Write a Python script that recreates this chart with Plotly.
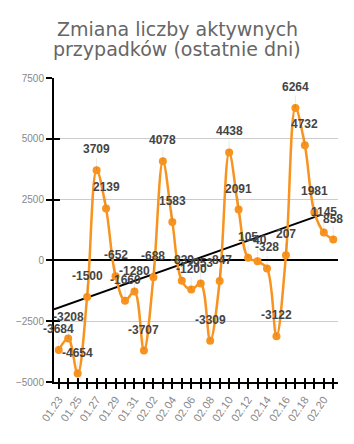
import plotly.graph_objects as go
import numpy as np

dates = ["01.23","01.24","01.25","01.26","01.27","01.28","01.29","01.30","01.31",
         "02.01","02.02","02.03","02.04","02.05","02.06","02.07","02.08","02.09",
         "02.10","02.11","02.12","02.13","02.14","02.15","02.16","02.17","02.18",
         "02.19","02.20","02.21"]
changes = [-3684, -3208, -4654, -1500, 3709, 2139, -652, -1660, -1280,
           -3707, -688, 4078, 1583, -839, -1200, -953, -3309, -847,
           4438, 2091, 105, -40, -328, -3122, 207, 6264, 4732,
           1981, 1145, 858]
y_ticks = [-5000, -2500, 0, 2500, 5000, 7500]
title_lines = ["Zmiana liczby aktywnych", "przypadków (ostatnie dni)"]

idx = list(range(len(dates)))
ORANGE = "#F7931E"

# linear trend
slope, intercept = np.polyfit(idx, changes, 1)
trend_x = [-0.5, 27.6]
trend_y = [slope * x + intercept for x in trend_x]

fig = go.Figure()
fig.add_trace(go.Scatter(x=trend_x, y=trend_y, mode="lines",
                         line=dict(color="black", width=2), hoverinfo="skip",
                         showlegend=False))
fig.add_trace(go.Scatter(x=idx, y=changes, mode="lines+markers",
                         line=dict(color=ORANGE, width=2.5, shape="spline", smoothing=1),
                         marker=dict(color=ORANGE, size=8), showlegend=False))
# dummy for overlay axes
fig.add_trace(go.Scatter(x=[None], y=[None], xaxis="x2", yaxis="y2", showlegend=False))

annotations = []
for i, v in zip(idx, changes):
    annotations.append(dict(x=i, y=v, xref="x", yref="y", text=f"<b>{v}</b>",
                            showarrow=True, arrowhead=0, arrowwidth=1,
                            arrowcolor="rgba(0,0,0,0.08)", ax=0, ay=-21,
                            font=dict(family="Liberation Sans, Arial", size=12, color="#444")))

L, R, T, B = 54, 16, 78, 62
W, H = 354, 444
pw, ph = W - L - R, H - T - B
for line, py in zip(title_lines, [29, 49]):
    annotations.append(dict(text=line, xref="paper", yref="paper",
                            x=(177 - L) / pw, y=(H - B - py) / ph,
                            xanchor="center", yanchor="middle", showarrow=False,
                            font=dict(family="DejaVu Sans", size=19, color="#666")))

xrange_ = [-0.5, 29.5]
yrange_ = [-5000, 7500]
fig.update_layout(
    width=W, height=H,
    margin=dict(l=L, r=R, t=T, b=B, pad=0),
    paper_bgcolor="white", plot_bgcolor="white",
    annotations=annotations,
    xaxis=dict(range=xrange_, tickmode="array", tickvals=idx,
               ticktext=[d if k % 2 == 0 else "" for k, d in enumerate(dates)],
               tickangle=-55, ticks="outside", ticklen=5, tickwidth=1.5, tickcolor="black",
               showline=True, linecolor="black", linewidth=2, showgrid=False, zeroline=False,
               tickfont=dict(family="Liberation Sans, Arial", size=11, color="#888")),
    yaxis=dict(range=yrange_, tickmode="array", tickvals=y_ticks,
               ticks="outside", ticklen=6, tickwidth=1.5, tickcolor="black",
               showline=True, linecolor="black", linewidth=2,
               showgrid=True, gridcolor="#ccc", gridwidth=1,
               zeroline=True, zerolinecolor="black", zerolinewidth=1.5,
               tickfont=dict(family="Liberation Sans, Arial", size=10, color="#888")),
    xaxis2=dict(overlaying="x", anchor="y", range=xrange_, tickmode="array", tickvals=idx,
                ticks="inside", ticklen=4, tickwidth=1.5, tickcolor="black",
                showticklabels=False, showgrid=False, showline=False, zeroline=False),
    yaxis2=dict(overlaying="y", anchor="x", side="left", range=yrange_, tickmode="array",
                tickvals=y_ticks, ticks="inside", ticklen=6, tickwidth=1.5, tickcolor="black",
                showticklabels=False, showgrid=False, showline=False, zeroline=False),
)

fig.write_html("out.html")
